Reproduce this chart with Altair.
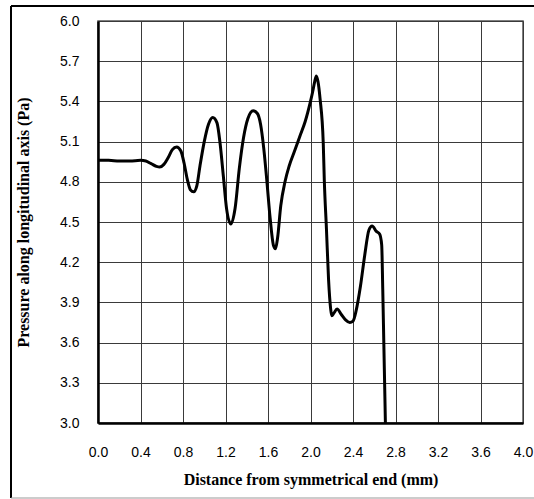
import altair as alt
import pandas as pd

# distance from symmetrical end (mm)
dist = [0.00, 0.10, 0.20, 0.30, 0.40, 0.45, 0.50, 0.55, 0.58, 0.62, 0.66, 0.70, 0.74, 0.78,
        0.81, 0.84, 0.87, 0.90, 0.93, 0.96, 1.00, 1.04, 1.08, 1.12, 1.15, 1.18, 1.21, 1.25,
        1.29, 1.33, 1.37, 1.41, 1.46, 1.50, 1.53, 1.56, 1.59, 1.62, 1.65, 1.67, 1.69, 1.72,
        1.76, 1.80, 1.85, 1.90, 1.95, 2.00, 2.02, 2.04, 2.055, 2.07, 2.09, 2.12, 2.13, 2.15,
        2.17, 2.19, 2.20, 2.22, 2.25, 2.29, 2.33, 2.37, 2.40, 2.43, 2.47, 2.51, 2.55, 2.58,
        2.62, 2.65, 2.67, 2.68, 2.69, 2.70, 2.71]
# pressure along longitudinal axis (Pa)
pressure = [4.96, 4.96, 4.955, 4.955, 4.96, 4.955, 4.935, 4.915, 4.91, 4.93, 4.98, 5.04, 5.06, 5.03,
            4.94, 4.82, 4.74, 4.725, 4.77, 4.92, 5.10, 5.23, 5.28, 5.24, 5.08, 4.84, 4.60, 4.485,
            4.60, 4.90, 5.13, 5.27, 5.33, 5.31, 5.23, 5.05, 4.80, 4.53, 4.33, 4.30, 4.38, 4.62,
            4.80, 4.92, 5.03, 5.14, 5.25, 5.40, 5.47, 5.55, 5.59, 5.55, 5.42, 5.09, 4.81, 4.45,
            4.07, 3.85, 3.80, 3.82, 3.85, 3.81, 3.77, 3.75, 3.76, 3.84, 4.02, 4.25, 4.44, 4.47,
            4.43, 4.41, 4.33, 4.00, 3.60, 3.20, 2.80]

x_ticks = [round(0.4 * i, 1) for i in range(11)]
y_ticks = [round(3.0 + 0.3 * i, 1) for i in range(11)]

df = pd.DataFrame({"d": dist, "p": pressure})

W, H = 425, 402
PL, PT, PR, PB = 98, 21, 11, 76

line = alt.Chart(df).mark_line(
    color="black", strokeWidth=3, interpolate="monotone", clip=True
).encode(
    x=alt.X("d:Q", title="Distance from symmetrical end (mm)",
            scale=alt.Scale(domain=[0, 4.0], nice=False, zero=False),
            axis=alt.Axis(values=x_ticks, format=".1f", labelPadding=22, titlePadding=12,
                          labelFlush=False,
                          domainColor="black", domainWidth=2.5)),
    y=alt.Y("p:Q", title="Pressure along longitudinal axis (Pa)",
            scale=alt.Scale(domain=[3.0, 6.0], nice=False, zero=False),
            axis=alt.Axis(values=y_ticks, format=".1f", labelPadding=19, titlePadding=28,
                          labelFlush=False,
                          domainColor="black", domainWidth=2.5)),
)

# outer frame of the figure
frame_dark = alt.Chart(pd.DataFrame({"k": [0]})).mark_rule(color="black", strokeWidth=2).encode(
    x=alt.value(11 - PL), y=alt.value(6 - PT), x2=alt.value(11 - PL), y2=alt.value(498 - PT)
)
frame_top = alt.Chart(pd.DataFrame({"k": [0]})).mark_rule(color="black", strokeWidth=2).encode(
    x=alt.value(11 - PL), y=alt.value(6 - PT), x2=alt.value(540 - PL), y2=alt.value(6 - PT)
)
frame_bottom = alt.Chart(pd.DataFrame({"k": [0]})).mark_rule(color="#999999", strokeWidth=1).encode(
    x=alt.value(11 - PL), y=alt.value(498 - PT), x2=alt.value(540 - PL), y2=alt.value(498 - PT)
)

chart = alt.layer(line, frame_dark, frame_top, frame_bottom).properties(
    width=W, height=H,
    autosize=alt.AutoSizeParams(type="none"),
    padding={"left": PL, "top": PT, "right": PR, "bottom": PB},
    background="white",
).configure_view(
    stroke="#555555", strokeWidth=1.5
).configure_axis(
    grid=True, gridColor="#3a3a3a", gridWidth=1, gridOpacity=1,
    ticks=False, labelFont="Liberation Sans", labelFontSize=14, labelFontWeight="normal",
    labelColor="black",
    titleFont="Liberation Serif", titleFontWeight="bold", titleFontSize=16, titleColor="black",
    labelOverlap=False,
)

chart.save("out.html", embed_options={"renderer": "svg", "actions": False})
